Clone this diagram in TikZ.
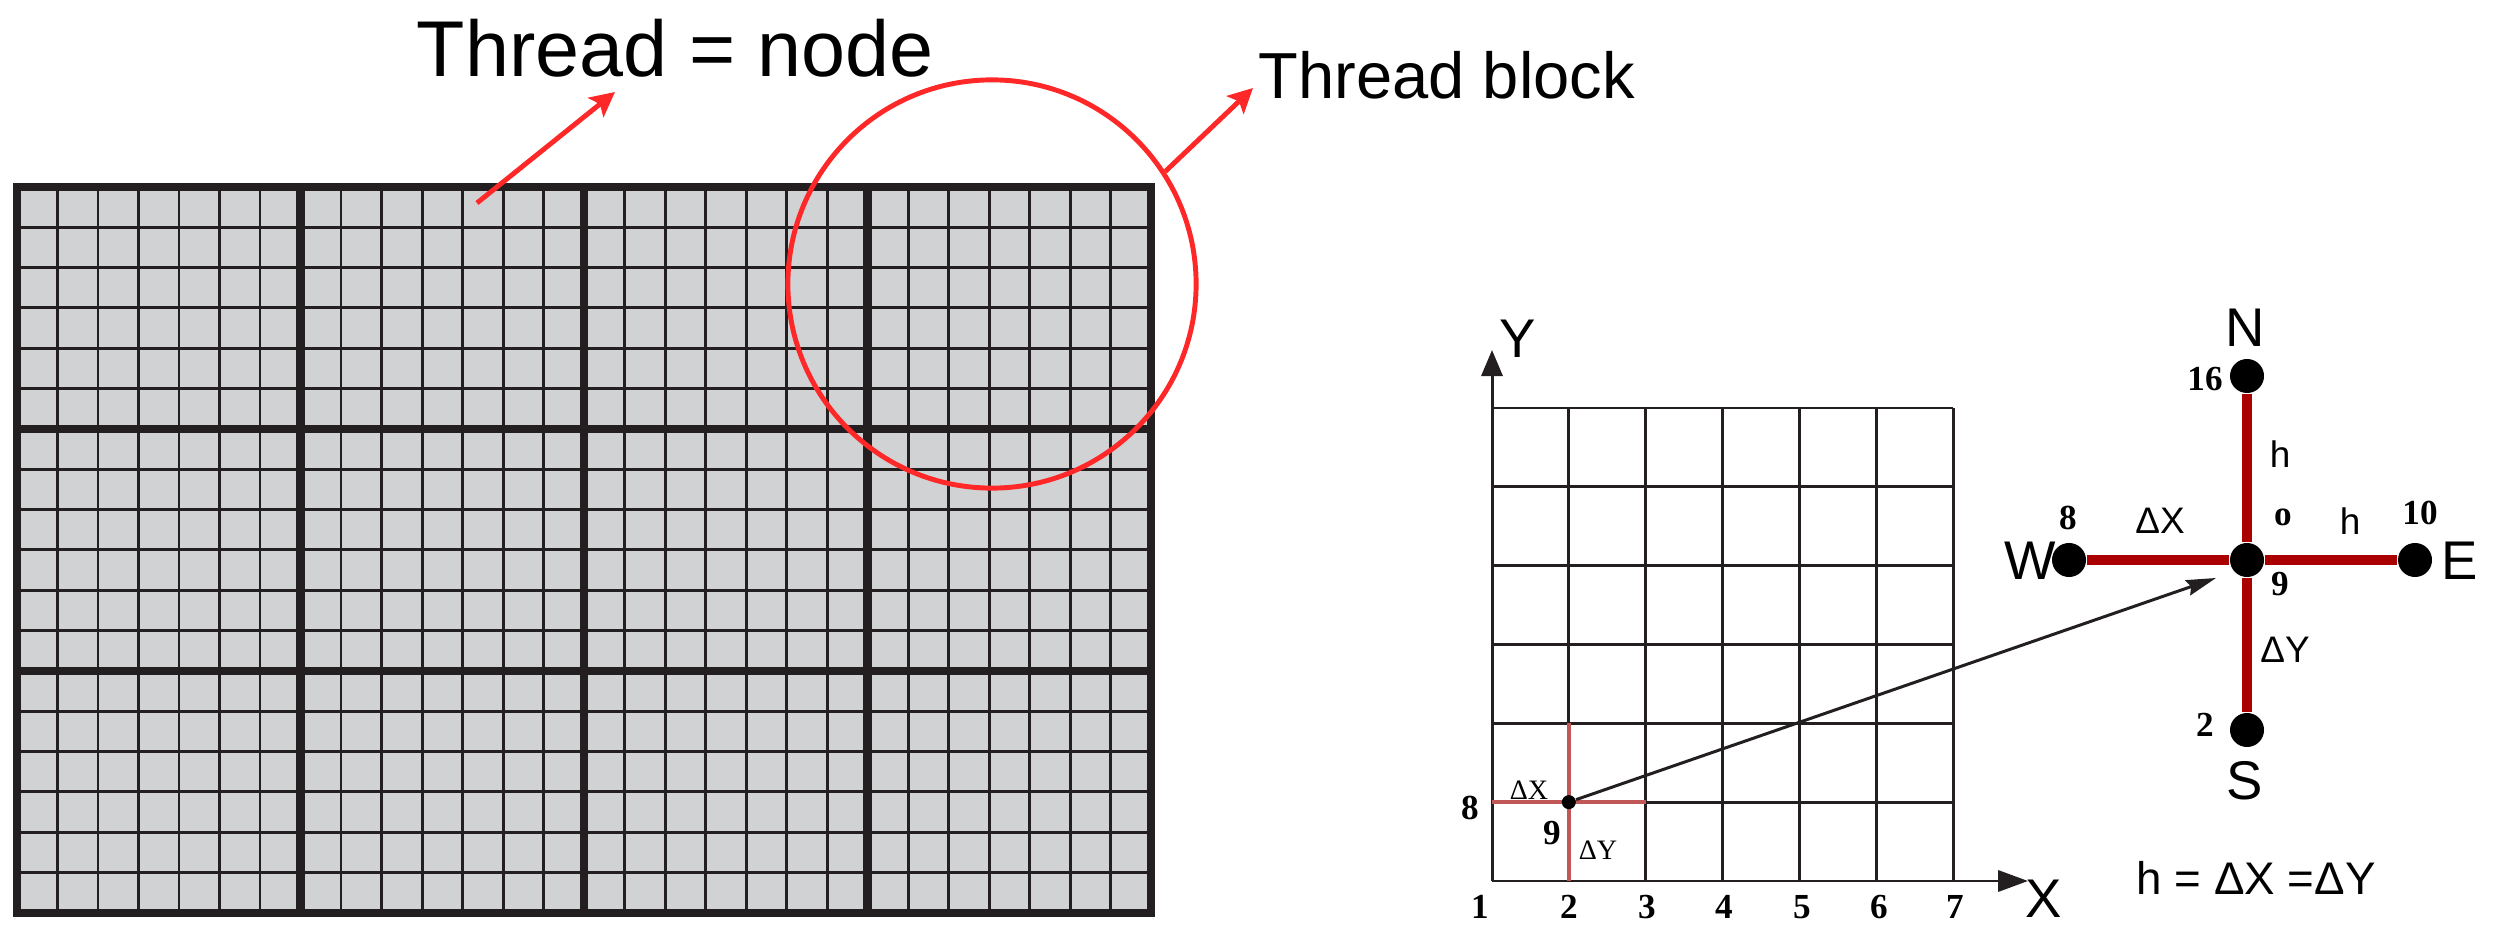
\documentclass[tikz,border=0pt]{standalone}
\usepackage{fontspec}
\setmainfont{Liberation Sans}
\newfontfamily\numfont{Liberation Serif}
\usetikzlibrary{arrows.meta}

\definecolor{cellgray}{RGB}{209,210,212}
\definecolor{gridink}{RGB}{35,31,32}
\definecolor{notered}{RGB}{255,40,40}
\definecolor{stencilred}{RGB}{170,0,0}
\definecolor{cellred}{RGB}{192,88,88}

\tikzset{
  thinrule/.style={gridink, line width=0.85pt},
  thickrule/.style={gridink, line width=2.4pt},
  callout/.style={notered, line width=1.4pt, -{Stealth[length=7pt,width=7pt,inset=1.5pt]}},
  dot/.style={circle, fill=black, inner sep=0pt, minimum size=0.34cm},
  stencil/.style={stencilred, line width=2.8pt},
  compass/.style={font=\fontsize{15.5}{18}\selectfont, inner sep=0pt},
  numlabel/.style={font=\numfont\bfseries\fontsize{10}{12}\selectfont, inner sep=0pt},
  steplabel/.style={font=\fontsize{10.5}{12}\selectfont, inner sep=0pt},
  smallstep/.style={font=\numfont\fontsize{8}{10}\selectfont, inner sep=0pt},
}

\begin{document}
\begin{tikzpicture}[x=0.01cm, y=-0.01cm]
  \useasboundingbox (0,0) rectangle (2500,931);

  % Threads: 4 x 3 blocks of 7 x 6 cells
  \def\cw{40.5}
  \def\ch{40.33}
  \fill[cellgray] (13,183) rectangle (1155,917);
  \foreach \i in {1,...,27} {
    \draw[thinrule] ({17+\i*\cw},187) -- ({17+\i*\cw},913);
  }
  \foreach \j in {1,...,17} {
    \draw[thinrule] (17,{187+\j*\ch}) -- (1151,{187+\j*\ch});
  }
  \foreach \i in {0,7,14,21,28} {
    \draw[thickrule] ({17+\i*\cw},183) -- ({17+\i*\cw},917);
  }
  \foreach \j in {0,6,12,18} {
    \draw[thickrule] (13,{187+\j*\ch}) -- (1155,{187+\j*\ch});
  }

  % Thread block
  \node[draw=notered, line width=1.4pt, circle, minimum size=4.08cm, inner sep=0pt] (blk) at (992,284) {};

  % Titles and callouts
  \node[font=\fontsize{22.5}{27}\selectfont, anchor=base west, inner sep=0pt] (thr) at (416,77) {Thread = node};
  \node[font=\fontsize{18.5}{22}\selectfont, anchor=base west, inner sep=0pt] (tblk) at (1258,99) {Thread block};
  \coordinate (cell) at (477,203);
  \coordinate (thrtip) at (615,92);
  \coordinate (blktip) at (1253,88);
  \draw[callout] (cell) -- (thrtip);
  \draw[callout] (blk.33) -- (blktip);

  % Mesh
  \def\gx{76.83}
  \def\gy{78.83}
  \foreach \i in {1,...,6} {
    \draw[thinrule] ({1492+\i*\gx},408) -- ({1492+\i*\gx},881);
  }
  \foreach \j in {0,...,5} {
    \draw[thinrule] (1492,{408+\j*\gy}) -- (1953,{408+\j*\gy});
  }

  % Axes
  \coordinate (orig) at (1492,881);
  \coordinate (ytip) at (1492,350);
  \coordinate (xtip) at (2028,881);
  \draw[thinrule, -{Triangle[length=7.4pt,width=6pt]}] (orig) -- (ytip);
  \draw[thinrule, -{Triangle[length=8.5pt,width=6pt]}] (orig) -- (xtip);
  \node[compass] (ylab) at (1518,339) {Y};
  \node[compass] (xlab) at (2044,899) {X};
  \foreach \k/\xx in {1/1480, 2/1569, 3/1647, 4/1724, 5/1802, 6/1879, 7/1955} {
    \node[numlabel] (n\k) at (\xx,907) {\k};
  }

  % Point 9 in the mesh
  \draw[cellred, line width=1.1pt] (1492,{408+5*\gy}) -- ({1492+2*\gx},{408+5*\gy});
  \draw[cellred, line width=1.1pt] ({1492+\gx},{408+4*\gy}) -- ({1492+\gx},881);
  \node[dot, minimum size=0.14cm] (p9) at ({1492+\gx},{408+5*\gy}) {};
  \node[numlabel] (m8) at (1470,808) {8};
  \node[numlabel] (m9) at (1552,833) {9};
  \node[smallstep] (mdx) at (1529,790) {ΔX};
  \node[smallstep] (mdy) at (1598,850) {ΔY};

  % Five-point stencil
  \node[dot] (O) at (2247,560) {};
  \node[dot] (N) at (2247,376) {};
  \node[dot] (S) at (2247,730) {};
  \node[dot] (W) at (2069,560) {};
  \node[dot] (E) at (2415,560) {};
  \draw[stencil] (W) -- (O);
  \draw[stencil] (O) -- (E);
  \draw[stencil] (N) -- (O);
  \draw[stencil] (O) -- (S);
  \coordinate (otip) at (2216,578);
  \draw[gridink, line width=0.85pt, -{Stealth[length=8.5pt,width=4.5pt,inset=1pt]}] (p9) -- (otip);

  \node[compass] (nlab) at (2245,328) {N};
  \node[compass] (slab) at (2245,781) {S};
  \node[compass] (wlab) at (2030,561) {W};
  \node[compass] (elab) at (2460,561) {E};
  \node[numlabel] (s16) at (2205,379) {16};
  \node[numlabel] (s10) at (2420,513) {10};
  \node[numlabel] (s8) at (2068,518) {8};
  \node[numlabel] (s2) at (2205,725) {2};
  \node[numlabel] (s9) at (2280,584) {9};
  \node[numlabel] (so) at (2283,517) {o};
  \node[steplabel] (hn) at (2280,454) {h};
  \node[steplabel] (he) at (2350,521) {h};
  \node[steplabel] (dx) at (2160,521) {ΔX};
  \node[steplabel] (dy) at (2285,650) {ΔY};
  \node[font=\fontsize{13}{15}\selectfont, inner sep=0pt] (heq) at (2256,878) {h = ΔX =ΔY};

\end{tikzpicture}
\end{document}
